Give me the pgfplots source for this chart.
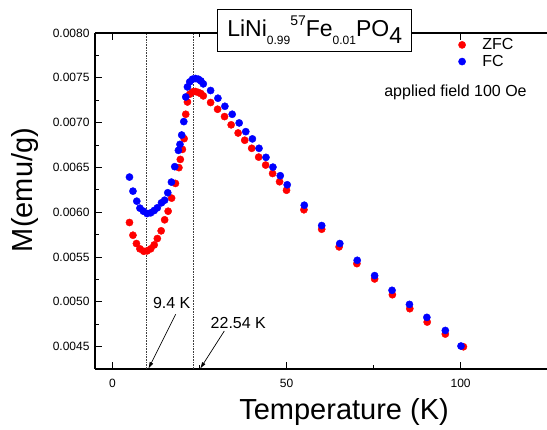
\documentclass[border=0pt]{standalone}
\usepackage{fontspec}
\setmainfont{Liberation Sans}
\usepackage{pgfplots}
\pgfplotsset{compat=1.18}
\usetikzlibrary{arrows.meta}

\begin{document}
\begin{tikzpicture}
\begin{axis}[
  at={(0,0)}, anchor=south west,
  scale only axis, width=452pt, height=336pt,
  xmin=-5, xmax=124.8, ymin=0.00425, ymax=0.0080,
  axis x line*=box, axis y line*=left,
  xtick={0,50,100}, minor xtick={25,75},
  ytick={0.0045,0.0050,0.0055,0.0060,0.0065,0.0070,0.0075,0.0080},
  minor ytick={0.00475,0.00525,0.00575,0.00625,0.00675,0.00725,0.00775},
  xtick pos=both, xticklabel pos=left,
  tick align=inside,
  major tick length=7pt, minor tick length=4pt,
  every tick/.style={black, line width=0.9pt},
  axis line style={line width=1.1pt},
  scaled y ticks=false,
  yticklabel style={/pgf/number format/fixed, /pgf/number format/fixed zerofill, /pgf/number format/precision=4, xshift=-2pt},
  /pgf/number format/assume math mode=true,
  ticklabel style={font=\fontsize{12}{14}\selectfont},
  xticklabel style={yshift=-6.5pt},
  xlabel={Temperature (K)},
  xlabel style={at={(axis description cs:0.551,0)}, anchor=base, yshift=-51pt, font=\fontsize{29}{32}\selectfont},
  ylabel={M(emu/g)},
  ylabel style={at={(axis description cs:-0.1372,0.5327)}, anchor=base, font=\fontsize{29}{32}\selectfont},
  legend style={at={(axis description cs:0.8002,0.990)}, anchor=north west, draw=none, fill=none,
    font=\fontsize{16}{18}\selectfont, inner sep=0pt},
  legend cell align=left,
  legend image code/.code={\draw[#1] plot coordinates {(0pt,0pt)}; \path (-5pt,0pt) (18pt,0pt);},
  clip=false,
]
\draw[densely dotted, line width=0.6pt, black!75] (axis cs:9.76,0.00425) -- (axis cs:9.76,0.0080);
\draw[densely dotted, line width=0.6pt, black!75] (axis cs:23.25,0.00425) -- (axis cs:23.25,0.0080);

\addplot[only marks, mark=*, mark size=3.6pt, mark options={draw=red, fill=red}] coordinates {
(4.9,0.005885) (5.9,0.005743) (6.9,0.005650) (7.9,0.005591) (9.0,0.005564)
(9.95,0.005568) (11.0,0.005591) (12.0,0.005635) (12.9,0.005706) (14.0,0.005792)
(15.0,0.005915) (16.0,0.006011) (17.0,0.006157) (18.1,0.006321) (19.1,0.006497)
(19.5,0.006589) (20.1,0.006701) (20.6,0.006821) (21.06,0.007093) (21.55,0.007230)
(22.2,0.007317) (23.0,0.007342) (23.85,0.007347) (24.7,0.007336) (25.4,0.007324)
(26.1,0.007298) (28.2,0.007224) (30.2,0.007149) (32.2,0.007067) (34.1,0.006975)
(36.1,0.006884) (38.0,0.006803) (40.0,0.006713) (42.0,0.006615) (44.0,0.006526)
(46.0,0.006432) (48.0,0.006340) (50.0,0.006245) (55.0,0.006027) (60.1,0.005810)
(65.1,0.005613) (70.2,0.005426) (75.3,0.005255) (80.4,0.005079) (85.4,0.004923)
(90.4,0.004774) (95.6,0.004640) (100.8,0.004498)
};
\addlegendentry{ZFC}
\addplot[only marks, mark=*, mark size=3.6pt, mark options={draw=blue, fill=blue}] coordinates {
(4.9,0.006392) (5.9,0.006235) (7.0,0.006123) (7.9,0.006045) (8.9,0.006011)
(9.95,0.005985) (11.0,0.005993) (12.0,0.006019) (12.9,0.006049) (14.1,0.006105)
(15.0,0.006134) (15.9,0.006217) (16.95,0.006336) (17.9,0.006508) (18.95,0.006690)
(19.4,0.006757) (19.9,0.006861) (20.5,0.007011) (21.06,0.007286) (21.55,0.007398)
(22.2,0.007454) (23.0,0.007484) (23.85,0.007492) (24.7,0.007484) (25.4,0.007465)
(26.1,0.007432) (28.2,0.007358) (30.3,0.007272) (32.3,0.007182) (34.4,0.007093)
(36.4,0.006996) (38.3,0.006899) (40.2,0.006818) (42.1,0.006713) (44.1,0.006612)
(46.1,0.006503) (48.2,0.006407) (50.2,0.006306) (55.1,0.006078) (60.1,0.005851)
(65.3,0.005650) (70.3,0.005463) (75.3,0.005292) (80.3,0.005128) (85.3,0.004971)
(90.3,0.004826) (95.6,0.004680) (100.1,0.004506)
};
\addlegendentry{FC}
\end{axis}

% title box
\draw[line width=1pt, fill=white] (122.7pt,317.3pt) rectangle (316.7pt,359.7pt);
\node[anchor=base, inner sep=0pt] at (219.7pt,332.3pt) {\fontsize{23}{26}\selectfont LiNi\raisebox{-8pt}{\fontsize{12}{14}\selectfont 0.99}\raisebox{11pt}{\fontsize{14}{16}\selectfont 57}Fe\raisebox{-8pt}{\fontsize{12}{14}\selectfont 0.01}PO\raisebox{-6.5pt}{4}};

\node[anchor=base, inner sep=0pt] at (360.5pt,272.3pt) {\fontsize{16}{18}\selectfont applied field 100 Oe};

% annotations
\node[anchor=base, inner sep=0pt] at (76.7pt,60.7pt) {\fontsize{16}{18}\selectfont 9.4 K};
\node[anchor=base, inner sep=0pt] at (143.3pt,40.7pt) {\fontsize{16}{18}\selectfont 22.54 K};
\draw[line width=0.7pt, -{Latex[length=7pt,width=4pt]}] (80.7pt,54.7pt) -- (53.3pt,0pt);
\draw[line width=0.7pt, -{Latex[length=7pt,width=4pt]}] (129.3pt,38pt) -- (105pt,0pt);

\pgfresetboundingbox
\path (-95pt,-61pt) rectangle (452pt,369pt);
\end{tikzpicture}
\end{document}
